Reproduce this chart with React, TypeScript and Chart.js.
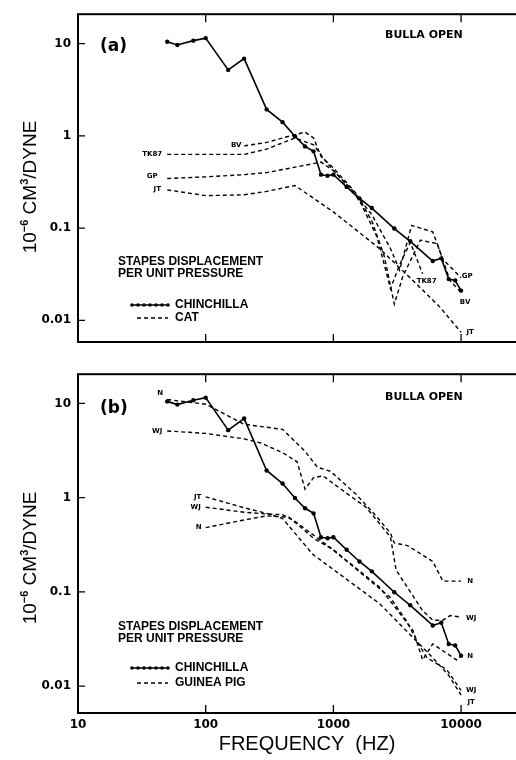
import React, { useEffect, useRef } from 'react';
import { Chart, registerables } from 'chart.js';
Chart.register(...registerables);

// ---------------- data ----------------
const chinFreq = [50, 60, 80, 100, 150, 200, 300, 400, 500, 600, 700, 800, 900, 1000, 1270, 1600, 2000, 3000, 4000, 6000, 7000, 8000, 9000, 10000];
const chinVal = [10.5, 9.7, 10.8, 11.5, 5.2, 6.9, 1.94, 1.41, 0.99, 0.77, 0.68, 0.38, 0.37, 0.38, 0.28, 0.21, 0.165, 0.099, 0.072, 0.044, 0.047, 0.028, 0.027, 0.021];

// panel (a) cat
const catBVFreq = [200, 300, 400, 600, 700, 800, 1000, 1500, 2000, 2500, 3000, 3500, 4800, 6500, 8200, 10000];
const catBVVal = [0.78, 0.85, 0.95, 1.1, 0.95, 0.6, 0.45, 0.24, 0.12, 0.05, 0.015, 0.03, 0.074, 0.068, 0.027, 0.02];
const catTKFreq = [50, 200, 300, 500, 700, 900, 1200, 1600, 2200, 2800, 3300, 4000, 5000];
const catTKVal = [0.63, 0.63, 0.72, 0.95, 0.8, 0.5, 0.32, 0.2, 0.08, 0.022, 0.04, 0.07, 0.032];
const catGPFreq = [50, 100, 200, 300, 550, 800, 1000, 1400, 2000, 2800, 3300, 3700, 4100, 6000, 7200, 10000];
const catGPVal = [0.345, 0.36, 0.38, 0.4, 0.47, 0.52, 0.42, 0.26, 0.14, 0.06, 0.035, 0.063, 0.107, 0.091, 0.046, 0.029];
const catJTFreq = [50, 100, 200, 300, 500, 1000, 2300, 4200, 6800, 10000];
const catJTVal = [0.26, 0.225, 0.23, 0.25, 0.29, 0.15, 0.06, 0.027, 0.014, 0.0074];

// panel (b) guinea pig
const gpNhiFreq = [50, 100, 200, 400, 600, 750, 950, 1500, 2200, 2800, 3000, 3800, 6000, 7200, 10000];
const gpNhiVal = [11, 9.8, 6.0, 5.3, 3.1, 2.1, 1.9, 1.09, 0.62, 0.42, 0.33, 0.31, 0.21, 0.13, 0.13];
const gpWJhiFreq = [50, 100, 200, 270, 400, 520, 600, 700, 830, 1100, 1800, 2200, 2800, 3100, 5000, 6000, 7200, 8200, 10000];
const gpWJhiVal = [5.1, 4.8, 4.2, 3.8, 3.0, 2.4, 1.23, 1.63, 1.7, 1.28, 0.79, 0.57, 0.38, 0.17, 0.063, 0.05, 0.05, 0.056, 0.054];
const gpJTloFreq = [100, 200, 300, 400, 690, 2300, 3700, 6000, 8000, 10000];
const gpJTloVal = [1.02, 0.78, 0.68, 0.6, 0.25, 0.075, 0.039, 0.02, 0.013, 0.008];
const gpWJloFreq = [100, 200, 300, 400, 500, 930, 2770, 3700, 4800, 5400, 7700, 10000];
const gpWJloVal = [0.79, 0.7, 0.67, 0.66, 0.56, 0.3, 0.088, 0.05, 0.026, 0.02, 0.015, 0.009];
const gpNloFreq = [100, 200, 300, 450, 700, 1000, 2300, 4200, 5000, 6000, 9200, 10000];
const gpNloVal = [0.48, 0.58, 0.64, 0.62, 0.37, 0.28, 0.112, 0.039, 0.019, 0.028, 0.019, 0.021];

const X_MIN = 10;
const X_MAX = 30000;

// ---------------- helpers ----------------
type Lbl = [string, number, number];
type Series = { f: number[]; v: number[]; solid?: boolean; start?: Lbl; end?: Lbl };

const logTicks = (min: number, max: number) => {
  const out: { value: number }[] = [];
  for (let e = Math.floor(Math.log10(min)); e <= Math.ceil(Math.log10(max)); e++) {
    for (let m = 1; m <= 9; m++) {
      const v = parseFloat((m * Math.pow(10, e)).toPrecision(6));
      if (v >= min && v <= max) out.push({ value: v });
    }
  }
  return out;
};
const isDecade = (v: number) => {
  const l = Math.log10(v);
  return Math.abs(l - Math.round(l)) < 1e-6;
};
const fmt = (v: number) => (v >= 1 ? String(Math.round(v)) : String(parseFloat(v.toPrecision(3))));

const TICK_FONT = { family: '"DejaVu Sans", sans-serif', weight: 'bold' as const, size: 12 };
const SMALL = 'bold 7px "DejaVu Sans", sans-serif';
const LEG = 'bold 12px "Liberation Sans", Arial, sans-serif';

function drawYTitle(ctx: CanvasRenderingContext2D, cx: number, cy: number) {
  const big = '19px "Liberation Sans", Arial, sans-serif';
  const sm = 'bold 11px "Liberation Sans", Arial, sans-serif';
  const parts: [string, string, number][] = [
    ['10', big, 0], ['\u22126', sm, -8], [' CM', big, 0], ['3', sm, -8], ['/DYNE', big, 0],
  ];
  ctx.save();
  let total = 0;
  parts.forEach(([t, f]) => { ctx.font = f; total += ctx.measureText(t).width; });
  ctx.translate(cx, cy);
  ctx.rotate(-Math.PI / 2);
  ctx.textAlign = 'left';
  ctx.textBaseline = 'alphabetic';
  ctx.fillStyle = '#000';
  let x = -total / 2;
  parts.forEach(([t, f, dy]) => { ctx.font = f; ctx.fillText(t, x, 7 + dy); x += ctx.measureText(t).width; });
  ctx.restore();
}

type Panel = {
  series: Series[];
  yMin: number; yMax: number;
  padTop: number; xAxisH: number; showX: boolean; oy: number;
  tag: string; bullaY: number; tagY: number;
  stapesY: number; legY1: number; legY2: number; leg2: string;
  yTitleY: number;
};

function makeConfig(p: Panel): any {
  const datasets = p.series.map((s) => ({
    data: s.f.map((x, i) => ({ x, y: s.v[i] })),
    borderColor: '#000',
    backgroundColor: '#000',
    borderWidth: s.solid ? 1.6 : 1.4,
    borderDash: s.solid ? [] : [4, 3],
    pointRadius: s.solid ? 2.2 : 0,
    pointBorderWidth: 0,
    pointBackgroundColor: '#000',
    tension: 0,
    fill: false,
  }));

  const framePlugin = {
    id: 'frame',
    afterDraw(chart: any) {
      const { ctx, chartArea } = chart;
      const { left, right, top, bottom } = chartArea;
      const xs = chart.scales.x, ys = chart.scales.y;
      ctx.save();
      ctx.strokeStyle = '#000';
      ctx.lineWidth = 2;
      ctx.strokeRect(left, top, right - left, bottom - top);
      ctx.lineWidth = 1.3;
      ctx.beginPath();
      xs.ticks.forEach((t: any) => {
        const px = xs.getPixelForValue(t.value);
        if (px < left - 0.5 || px > right + 0.5) return;
        const len = isDecade(t.value) ? 8 : 4;
        ctx.moveTo(px, bottom); ctx.lineTo(px, bottom - len);
        ctx.moveTo(px, top); ctx.lineTo(px, top + len);
      });
      ys.ticks.forEach((t: any) => {
        const py = ys.getPixelForValue(t.value);
        if (py < top - 0.5 || py > bottom + 0.5) return;
        const len = isDecade(t.value) ? 7 : 3.5;
        ctx.moveTo(left, py); ctx.lineTo(left + len, py);
      });
      ctx.stroke();
      ctx.restore();
    },
  };

  const annotPlugin = {
    id: 'annot',
    afterDraw(chart: any) {
      const { ctx } = chart;
      const xs = chart.scales.x, ys = chart.scales.y;
      const oy = p.oy;
      ctx.save();
      ctx.fillStyle = '#000';
      ctx.strokeStyle = '#000';
      ctx.textBaseline = 'middle';
      const text = (s: string, x: number, y: number, font: string, align: CanvasTextAlign = 'left') => {
        ctx.font = font; ctx.textAlign = align; ctx.fillText(s, x, y - oy);
      };
      text(p.tag, 100, p.tagY, 'bold 17px "DejaVu Sans", sans-serif');
      text('BULLA OPEN', 385, p.bullaY, 'bold 11px "DejaVu Sans", sans-serif');
      text('STAPES DISPLACEMENT', 118, p.stapesY, LEG);
      text('PER UNIT PRESSURE', 118, p.stapesY + 11.5, LEG);
      ctx.lineWidth = 1.6;
      ctx.setLineDash([]);
      ctx.beginPath(); ctx.moveTo(131, p.legY1 - oy); ctx.lineTo(168, p.legY1 - oy); ctx.stroke();
      for (let x = 132; x <= 168; x += 6) { ctx.beginPath(); ctx.arc(x, p.legY1 - oy, 1.8, 0, Math.PI * 2); ctx.fill(); }
      text('CHINCHILLA', 175, p.legY1, LEG);
      ctx.lineWidth = 1.4;
      ctx.setLineDash([4, 3]);
      ctx.beginPath(); ctx.moveTo(137, p.legY2 - oy); ctx.lineTo(168, p.legY2 - oy); ctx.stroke();
      ctx.setLineDash([]);
      text(p.leg2, 175, p.legY2, LEG);
      p.series.forEach((s) => {
        if (s.start) {
          const px = xs.getPixelForValue(s.f[0]), py = ys.getPixelForValue(s.v[0]);
          ctx.font = SMALL; ctx.textAlign = 'center'; ctx.fillText(s.start[0], px + s.start[1], py + s.start[2]);
        }
        if (s.end) {
          const n = s.f.length - 1;
          const px = xs.getPixelForValue(s.f[n]), py = ys.getPixelForValue(s.v[n]);
          ctx.font = SMALL; ctx.textAlign = 'center'; ctx.fillText(s.end[0], px + s.end[1], py + s.end[2]);
        }
      });
      drawYTitle(ctx, 29, p.yTitleY - oy);
      if (p.showX) {
        text('FREQUENCY  (HZ)', 307, 744, '20px "Liberation Sans", Arial, sans-serif', 'center');
      }
      ctx.restore();
    },
  };

  return {
    type: 'line',
    data: { datasets },
    options: {
      responsive: false,
      animation: false,
      devicePixelRatio: 1,
      layout: { padding: { top: p.padTop, right: 18, left: 0, bottom: 0 } },
      plugins: { legend: { display: false }, tooltip: { enabled: false } },
      scales: {
        x: {
          type: 'logarithmic',
          min: X_MIN, max: X_MAX,
          afterBuildTicks: (s: any) => { s.ticks = logTicks(X_MIN, X_MAX); },
          afterFit: (s: any) => { s.height = p.xAxisH; },
          grid: { display: false, drawTicks: false },
          border: { display: false },
          ticks: {
            display: p.showX, autoSkip: false, maxRotation: 0, padding: 5,
            color: '#000', font: TICK_FONT,
            callback: (v: any) => (isDecade(Number(v)) ? fmt(Number(v)) : null),
          },
        },
        y: {
          type: 'logarithmic',
          min: p.yMin, max: p.yMax,
          afterBuildTicks: (s: any) => { s.ticks = logTicks(p.yMin, p.yMax); },
          afterFit: (s: any) => { s.width = 78; },
          grid: { display: false, drawTicks: false },
          border: { display: false },
          ticks: {
            autoSkip: false, padding: 7, color: '#000', font: TICK_FONT,
            callback: (v: any) => (isDecade(Number(v)) ? fmt(Number(v)) : null),
          },
        },
      },
    },
    plugins: [framePlugin, annotPlugin],
  };
}

const panelA: Panel = {
  series: [
    { f: chinFreq, v: chinVal, solid: true },
    { f: catBVFreq, v: catBVVal, start: ['BV', -8, -1], end: ['BV', 4, 10] },
    { f: catTKFreq, v: catTKVal, start: ['TK87', -15, 0], end: ['TK87', 4, 7] },
    { f: catGPFreq, v: catGPVal, start: ['GP', -15, -2], end: ['GP', 6, -2] },
    { f: catJTFreq, v: catJTVal, start: ['JT', -10, -1], end: ['JT', 9, 0] },
  ],
  yMin: 0.00582, yMax: 20.9,
  padTop: 9.3, xAxisH: 18, showX: false, oy: 0,
  tag: '(a)', tagY: 47, bullaY: 35,
  stapesY: 262, legY1: 305, legY2: 318, leg2: 'CAT',
  yTitleY: 187,
};

const panelB: Panel = {
  series: [
    { f: chinFreq, v: chinVal, solid: true },
    { f: gpNhiFreq, v: gpNhiVal, start: ['N', -7, -6], end: ['N', 9, 0] },
    { f: gpWJhiFreq, v: gpWJhiVal, start: ['WJ', -10, 0], end: ['WJ', 10, 1] },
    { f: gpJTloFreq, v: gpJTloVal, start: ['JT', -8, 0], end: ['JT', 10, 7] },
    { f: gpWJloFreq, v: gpWJloVal, start: ['WJ', -10, 0], end: ['WJ', 10, 0] },
    { f: gpNloFreq, v: gpNloVal, start: ['N', -7, 0], end: ['N', 9, 0] },
  ],
  yMin: 0.00518, yMax: 20.4,
  padTop: 13, xAxisH: 47, showX: true, oy: 360,
  tag: '(b)', tagY: 409, bullaY: 397,
  stapesY: 627, legY1: 668, legY2: 683, leg2: 'GUINEA PIG',
  yTitleY: 558,
};

export default function App() {
  const refA = useRef<HTMLCanvasElement>(null);
  const refB = useRef<HTMLCanvasElement>(null);
  useEffect(() => {
    const a = new Chart(refA.current as HTMLCanvasElement, makeConfig(panelA));
    const b = new Chart(refB.current as HTMLCanvasElement, makeConfig(panelB));
    return () => { a.destroy(); b.destroy(); };
  }, []);
  return (
    <div style={{ position: 'absolute', left: 0, top: 0, width: 516, height: 760, overflow: 'hidden', background: '#fff' }}>
      <canvas ref={refA} width={540} height={360} style={{ position: 'absolute', left: 0, top: 0, width: 540, height: 360 }} />
      <canvas ref={refB} width={540} height={400} style={{ position: 'absolute', left: 0, top: 360, width: 540, height: 400 }} />
    </div>
  );
}
